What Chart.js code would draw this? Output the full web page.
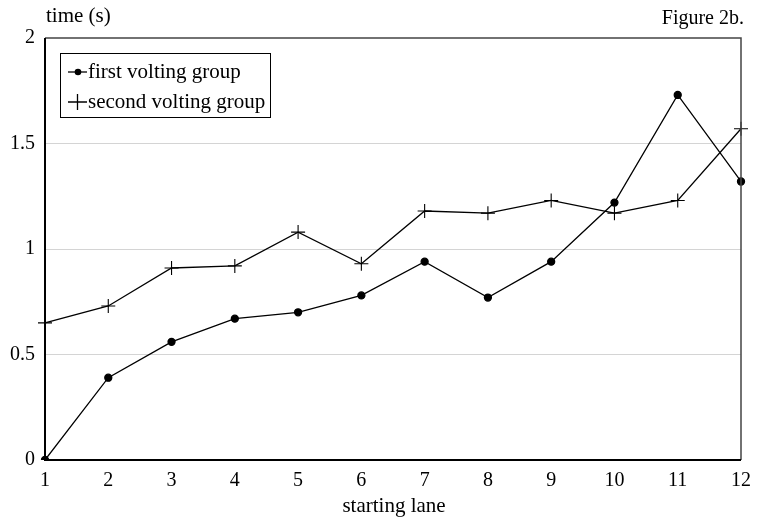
<!DOCTYPE html>
<html>
<head>
<meta charset="utf-8">
<script src="https://cdn.jsdelivr.net/npm/chart.js@4"></script>
<style>
  html, body { margin: 0; padding: 0; background: #fff; }
  #wrap { width: 764px; height: 519px; }
</style>
</head>
<body>
<div id="wrap"><canvas id="c" width="764" height="519"></canvas></div>
<script>
const lanes = ['1','2','3','4','5','6','7','8','9','10','11','12'];
const firstGroup = [0, 0.39, 0.56, 0.67, 0.70, 0.78, 0.94, 0.77, 0.94, 1.22, 1.73, 1.32];
const secondGroup = [0.65, 0.73, 0.91, 0.92, 1.08, 0.93, 1.18, 1.17, 1.23, 1.17, 1.23, 1.57];
const yTicks = [0, 0.5, 1, 1.5, 2];
const seriesNames = ['first volting group', 'second volting group'];

const serif = '"Liberation Serif", "DejaVu Serif", serif';

const extras = {
  id: 'extras',
  afterDraw(chart) {
    const ctx = chart.ctx;
    const a = chart.chartArea;
    ctx.save();
    // frame
    ctx.strokeStyle = '#444';
    ctx.lineWidth = 1.5;
    ctx.beginPath();
    ctx.moveTo(a.left, a.top);
    ctx.lineTo(a.right, a.top);
    ctx.lineTo(a.right, a.bottom);
    ctx.stroke();
    ctx.strokeStyle = '#000';
    ctx.lineWidth = 2;
    ctx.beginPath();
    ctx.moveTo(a.left, a.top);
    ctx.lineTo(a.left, a.bottom);
    ctx.lineTo(a.right, a.bottom);
    ctx.stroke();

    // titles
    ctx.fillStyle = '#000';
    ctx.textBaseline = 'alphabetic';
    ctx.textAlign = 'left';
    ctx.font = '21px ' + serif;
    ctx.fillText('time (s)', 46, 22);
    ctx.textAlign = 'right';
    ctx.font = '20px ' + serif;
    ctx.fillText('Figure 2b.', 744, 24);
    ctx.textAlign = 'center';
    ctx.font = '21px ' + serif;
    ctx.fillText('starting lane', 394, 512);

    // legend
    const lx = 60, ly = 53, lw = 210, lh = 64;
    ctx.fillStyle = '#fff';
    ctx.fillRect(lx, ly, lw, lh);
    ctx.strokeStyle = '#000';
    ctx.lineWidth = 1;
    ctx.strokeRect(lx + 0.5, ly + 0.5, lw, lh);
    ctx.textAlign = 'left';
    ctx.textBaseline = 'middle';
    ctx.fillStyle = '#000';
    ctx.font = '21px ' + serif;
    const rows = [ly + 19, ly + 49];
    ctx.lineWidth = 1.3;
    ctx.beginPath();
    ctx.moveTo(lx + 8, rows[0]);
    ctx.lineTo(lx + 27, rows[0]);
    ctx.stroke();
    ctx.beginPath();
    ctx.arc(lx + 18, rows[0], 3.3, 0, Math.PI * 2);
    ctx.fill();
    ctx.beginPath();
    ctx.moveTo(lx + 8, rows[1]);
    ctx.lineTo(lx + 27, rows[1]);
    ctx.moveTo(lx + 17.5, rows[1] - 8);
    ctx.lineTo(lx + 17.5, rows[1] + 8);
    ctx.stroke();
    ctx.fillText(seriesNames[0], lx + 28, rows[0]);
    ctx.fillText(seriesNames[1], lx + 28, rows[1]);
    ctx.restore();
  }
};

new Chart(document.getElementById('c'), {
  type: 'line',
  data: {
    labels: lanes,
    datasets: [{
      label: seriesNames[0],
      data: firstGroup,
      borderColor: '#000',
      backgroundColor: '#000',
      borderWidth: 1.3,
      pointStyle: 'circle',
      pointRadius: 3.5,
      tension: 0,
      fill: false
    }, {
      label: seriesNames[1],
      data: secondGroup,
      borderColor: '#000',
      backgroundColor: '#000',
      borderWidth: 1.3,
      pointStyle: 'cross',
      pointRadius: 7,
      pointBorderWidth: 1.1,
      tension: 0,
      fill: false
    }]
  },
  options: {
    responsive: false,
    animation: false,
    layout: { padding: { left: 0, right: 23, top: 38, bottom: 0 } },
    plugins: {
      legend: { display: false },
      tooltip: { enabled: false }
    },
    scales: {
      x: {
        offset: false,
        grid: { display: false },
        border: { display: false },
        ticks: { color: '#000', padding: 1, font: { family: serif, size: 20 }, maxRotation: 0 },
        afterFit(scale) { scale.height = 59; }
      },
      y: {
        min: 0,
        max: 2,
        afterBuildTicks(scale) { scale.ticks = yTicks.map(v => ({ value: v })); },
        grid: {
          drawTicks: false,
          color: ctx => (ctx.tick && (ctx.tick.value === 0 || ctx.tick.value === 2)) ? 'rgba(0,0,0,0)' : '#d4d4d4',
          lineWidth: 1
        },
        border: { display: false },
        ticks: { color: '#000', padding: 10, font: { family: serif, size: 20 }, callback: v => String(v) },
        afterFit(scale) { scale.width = 45; }
      }
    }
  },
  plugins: [extras]
});
</script>
</body>
</html>
